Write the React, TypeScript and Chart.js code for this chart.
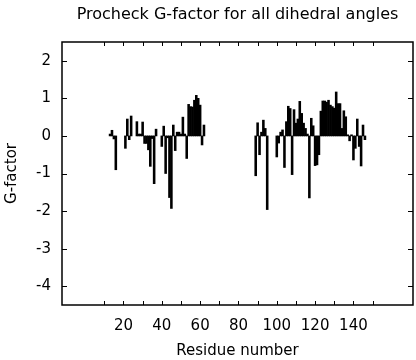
import React, { useEffect, useRef } from "react";
import { Chart, registerables } from "chart.js";

Chart.register(...registerables);

// Residue numbers and their Procheck G-factor
const residues = [
  13, 14, 15, 16,
  21, 22, 23, 24, 27, 28, 29, 30, 31, 32, 33, 34, 35, 36, 37,
  40, 41, 42, 43, 44, 45, 46, 47, 48, 49, 50, 51, 52, 53, 54, 55, 56, 57, 58, 59, 60, 61, 62,
  89, 90, 91, 92, 93, 94, 95,
  100, 101, 102, 103, 104, 105, 106, 107, 108, 109, 110, 111, 112, 113, 114, 115, 116, 117,
  118, 119, 120, 121, 122, 123, 124, 125, 126, 127, 128, 129, 130, 131, 132, 133, 134, 135,
  136, 137, 138, 139, 140, 141, 142, 143, 144, 145, 146,
];
const gFactor = [
  0.05, 0.15, -0.08, -0.9,
  -0.33, 0.45, -0.1, 0.53, 0.38, 0.05, 0.05, 0.37, -0.2, -0.2, -0.37, -0.81, -0.07, -1.27, 0.18,
  -0.28, 0.26, -1.0, -0.05, -1.64, -1.93, 0.29, -0.39, 0.1, 0.1, 0.05, 0.5, 0.05, -0.6, 0.84, 0.78, 0.77, 0.95, 1.08, 1.0, 0.82, -0.24, 0.29,
  -1.06, 0.35, -0.5, 0.1, 0.42, 0.2, -1.96,
  -0.56, -0.19, 0.1, 0.16, -0.84, 0.38, 0.79, 0.73, -1.03, 0.7, 0.34, 0.45, 0.92, 0.6, 0.34, 0.2, 0.05, -1.65,
  0.47, 0.27, -0.79, -0.77, -0.5, 0.66, 0.93, 0.93, 0.9, 0.95, 0.82, 0.78, 0.74, 1.17, 0.86, 0.86, 0.2, 0.67,
  0.51, 0.03, -0.13, 0.03, -0.64, -0.33, 0.45, -0.28, -0.8, 0.29, -0.1,
];

const xTickLabels = [20, 40, 60, 80, 100, 120, 140];
const xTickMarks = [10, 20, 30, 40, 50, 60, 70, 80, 90, 100, 110, 120, 130, 140, 150];
const yTickLabels = [2, 1, 0, -1, -2, -3, -4];

const FONT = "'DejaVu Sans', sans-serif";

const frameTicks = {
  id: "frameTicks",
  afterDraw(chart: any) {
    const { ctx, chartArea, scales } = chart;
    const { left, right, top, bottom } = chartArea;
    ctx.save();
    ctx.strokeStyle = "#000";
    ctx.lineWidth = 1;
    xTickMarks.forEach((v) => {
      const px = Math.round(scales.x.getPixelForValue(v)) + 0.5;
      ctx.beginPath();
      ctx.moveTo(px, bottom);
      ctx.lineTo(px, bottom - 4);
      ctx.moveTo(px, top);
      ctx.lineTo(px, top + 4);
      ctx.stroke();
    });
    yTickLabels.forEach((v) => {
      const py = Math.round(scales.y.getPixelForValue(v)) + 0.5;
      ctx.beginPath();
      ctx.moveTo(left, py);
      ctx.lineTo(left + 5, py);
      ctx.moveTo(right, py);
      ctx.lineTo(right - 5, py);
      ctx.stroke();
    });
    ctx.lineWidth = 1.5;
    ctx.strokeRect(left, top, right - left, bottom - top);
    ctx.restore();
  },
};

export default function App() {
  const ref = useRef<HTMLCanvasElement>(null);
  useEffect(() => {
    if (!ref.current) return;
    const chart = new Chart(ref.current, {
      type: "bar",
      data: {
        datasets: [
          {
            data: residues.map((r, i) => ({ x: r, y: gFactor[i] })),
            backgroundColor: "#000",
            borderWidth: 0,
            barPercentage: 1,
            categoryPercentage: 1,
          },
        ],
      },
      options: {
        responsive: false,
        animation: false,
        layout: { padding: { left: 0, right: 3, top: 0, bottom: 0 } },
        plugins: {
          legend: { display: false },
          tooltip: { enabled: false },
          title: {
            display: true,
            text: "Procheck G-factor for all dihedral angles",
            color: "#000",
            fullSize: false,
            font: { family: FONT, size: 16, weight: "normal" },
            padding: { top: 5, bottom: 17.8 },
          },
        },
        scales: {
          x: {
            type: "linear",
            min: 1,
            max: 158,
            grid: { display: false, drawTicks: false },
            border: { display: false },
            afterBuildTicks: (scale: any) => {
              scale.ticks = xTickLabels.map((v) => ({ value: v }));
            },
            afterFit: (scale: any) => {
              scale.height = 55;
            },
            ticks: {
              color: "#000",
              padding: 12,
              maxRotation: 0,
              autoSkip: false,
              font: { family: FONT, size: 15 },
            },
            title: {
              display: true,
              text: "Residue number",
              color: "#000",
              font: { family: FONT, size: 15 },
              padding: { top: 0, bottom: 0 },
            },
          },
          y: {
            type: "linear",
            min: -4.5,
            max: 2.5,
            grid: { display: false, drawTicks: false },
            border: { display: false },
            afterBuildTicks: (scale: any) => {
              scale.ticks = yTickLabels.map((v) => ({ value: v }));
            },
            afterFit: (scale: any) => {
              scale.width = 62;
            },
            ticks: {
              color: "#000",
              padding: 11,
              autoSkip: false,
              font: { family: FONT, size: 15 },
            },
            title: {
              display: true,
              text: "G-factor",
              color: "#000",
              font: { family: FONT, size: 15 },
              padding: { top: 3, bottom: 0 },
            },
          },
        },
      },
      plugins: [frameTicks],
    });
    return () => chart.destroy();
  }, []);
  return (
    <div style={{ position: "fixed", left: 0, top: 0, width: 416, height: 360, background: "#fff" }}>
      <canvas ref={ref} width={416} height={360} style={{ display: "block" }} />
    </div>
  );
}
